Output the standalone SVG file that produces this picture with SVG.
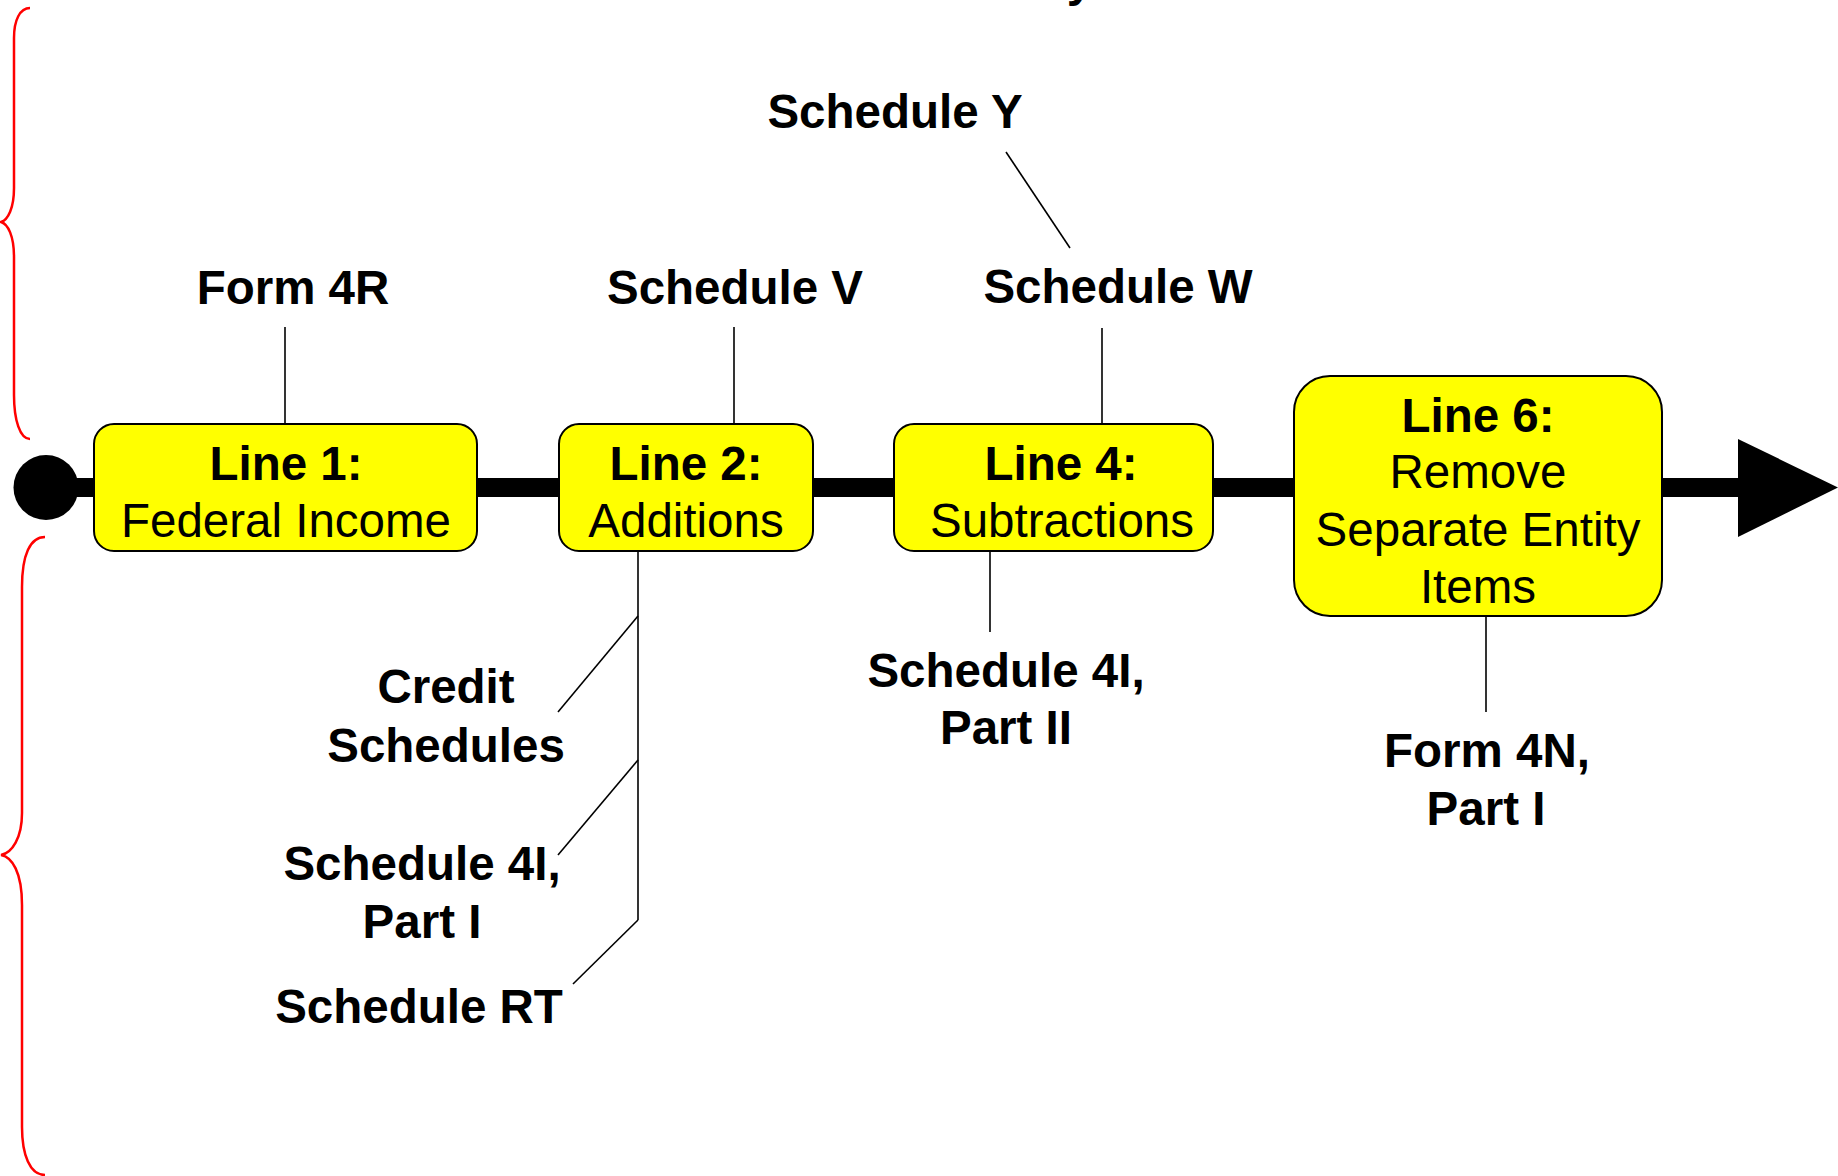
<svg xmlns="http://www.w3.org/2000/svg" width="1838" height="1176" viewBox="0 0 1838 1176">
<defs>
<style>
.box{fill:#ffff00;stroke:#000;stroke-width:2}
.t{font-family:"Liberation Sans",Arial,sans-serif;font-size:47.5px;fill:#000;text-anchor:middle}
.b{font-weight:bold}
.c{stroke:#000;stroke-width:1.6;fill:none}
.brace{stroke:#ff0000;stroke-width:2.5;fill:none}
</style>
</defs>
<rect width="1838" height="1176" fill="#fff"/>
<text class="t b" x="1080" y="-4">y</text>
<g id="braces">
<path class="brace" d="M30,8 C20,8 14,20 14,38 L14,188 C14,208 8,220 1,222 C8,224 14,236 14,257 L14,395 C14,420 20,439 30,439"/>
<path class="brace" d="M45,537 C30,537 22,555 22,587 L22,813 C22,838 12,853 1,855 C12,857 22,872 22,905 L22,1127 C22,1155 30,1175 45,1175"/>
</g>
<g id="timeline">
<line x1="46" y1="487.5" x2="1745" y2="487.5" stroke="#000" stroke-width="19"/>
<circle cx="46" cy="487.5" r="32.5" fill="#000"/>
<polygon points="1738,439 1838,487.5 1738,537" fill="#000"/>
</g>
<g id="connectors">
<line class="c" x1="285" y1="327" x2="285" y2="424"/>
<line class="c" x1="734" y1="327" x2="734" y2="424"/>
<line class="c" x1="1102" y1="328" x2="1102" y2="424"/>
<line class="c" x1="1006" y1="152" x2="1070" y2="248"/>
<line class="c" x1="638" y1="551" x2="638" y2="920"/>
<line class="c" x1="638" y1="616" x2="558" y2="712"/>
<line class="c" x1="638" y1="760" x2="558" y2="855"/>
<line class="c" x1="638" y1="920" x2="573" y2="984"/>
<line class="c" x1="990" y1="551" x2="990" y2="632"/>
<line class="c" x1="1486" y1="615" x2="1486" y2="712"/>
</g>
<g id="line1">
<rect class="box" x="94" y="424" width="383" height="127" rx="20"/>
<text class="t b" x="286" y="480">Line 1:</text>
<text class="t" x="286" y="537">Federal Income</text>
</g>
<g id="line2">
<rect class="box" x="559" y="424" width="254" height="127" rx="20"/>
<text class="t b" x="686" y="480">Line 2:</text>
<text class="t" x="686" y="537">Additions</text>
</g>
<g id="line4">
<rect class="box" x="894" y="424" width="319" height="127" rx="20"/>
<text class="t b" x="1061" y="480">Line 4:</text>
<text class="t" x="1062" y="537">Subtractions</text>
</g>
<g id="line6">
<rect class="box" x="1294" y="376" width="368" height="240" rx="36"/>
<text class="t b" x="1478" y="432">Line 6:</text>
<text class="t" x="1478" y="488">Remove</text>
<text class="t" x="1478" y="546">Separate Entity</text>
<text class="t" x="1478" y="603">Items</text>
</g>
<g id="form4r"><text class="t b" x="293" y="304">Form 4R</text></g>
<g id="schedV"><text class="t b" x="735" y="304">Schedule V</text></g>
<g id="schedW"><text class="t b" x="1118" y="303">Schedule W</text></g>
<g id="schedY"><text class="t b" x="895" y="128">Schedule Y</text></g>
<g id="credit">
<text class="t b" x="446" y="703">Credit</text>
<text class="t b" x="446" y="762">Schedules</text>
</g>
<g id="sched4I1">
<text class="t b" x="422" y="880">Schedule 4I,</text>
<text class="t b" x="422" y="938">Part I</text>
</g>
<g id="schedRT"><text class="t b" x="419" y="1023">Schedule RT</text></g>
<g id="sched4I2">
<text class="t b" x="1006" y="687">Schedule 4I,</text>
<text class="t b" x="1006" y="744">Part II</text>
</g>
<g id="form4N">
<text class="t b" x="1487" y="767">Form 4N,</text>
<text class="t b" x="1486" y="825">Part I</text>
</g>
</svg>
